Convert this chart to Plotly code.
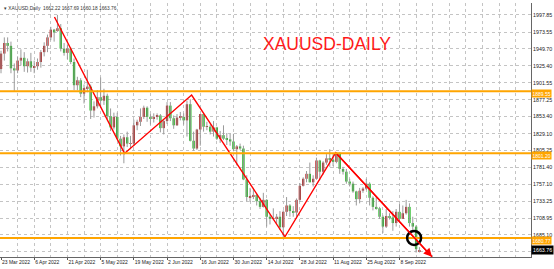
import plotly.graph_objects as go

# ---- daily XAUUSD bars (bar index 0 = 23 Mar 2022) ----
opens = [1921, 1943, 1958, 1954, 1922, 1919, 1933, 1937, 1925, 1932,
         1923, 1925, 1931, 1945, 1954, 1966, 1977, 1975, 1979, 1950,
         1944, 1950, 1931, 1898, 1905, 1886, 1894, 1896, 1862, 1868,
         1881, 1876, 1883, 1854, 1838, 1853, 1822, 1811, 1824, 1815,
         1815, 1841, 1846, 1853, 1866, 1853, 1851, 1853, 1855, 1837,
         1847, 1869, 1851, 1841, 1852, 1853, 1848, 1871, 1819, 1808,
         1835, 1857, 1839, 1839, 1832, 1838, 1822, 1827, 1822, 1821,
         1818, 1807, 1811, 1808, 1764, 1739, 1740, 1742, 1733, 1725,
         1735, 1711, 1708, 1709, 1711, 1696, 1718, 1727, 1719, 1717,
         1735, 1755, 1765, 1772, 1760, 1765, 1791, 1775, 1788, 1794,
         1792, 1789, 1802, 1779, 1775, 1761, 1758, 1747, 1736, 1748,
         1751, 1758, 1738, 1725, 1723, 1711, 1697, 1712, 1710, 1702,
         1718, 1708, 1716, 1725, 1702, 1697, 1662.22]
highs = [1947, 1966, 1966, 1960, 1929, 1939, 1949, 1945, 1936, 1944,
         1933, 1936, 1948, 1959, 1970, 1981, 1978, 1998, 1985, 1958,
         1956, 1952, 1936, 1910, 1908, 1899, 1920, 1899, 1875, 1891,
         1909, 1893, 1886, 1865, 1859, 1859, 1826, 1828, 1832, 1826,
         1849, 1849, 1865, 1869, 1868, 1857, 1858, 1858, 1857, 1849,
         1874, 1874, 1855, 1857, 1860, 1858, 1876, 1878, 1832, 1836,
         1857, 1857, 1846, 1842, 1847, 1839, 1833, 1841, 1830, 1829,
         1829, 1813, 1815, 1812, 1770, 1752, 1752, 1744, 1738, 1745,
         1736, 1714, 1723, 1715, 1719, 1720, 1739, 1729, 1726, 1737,
         1759, 1767, 1776, 1788, 1770, 1795, 1792, 1790, 1800, 1807,
         1800, 1802, 1802, 1782, 1779, 1765, 1761, 1748, 1752, 1753,
         1765, 1760, 1740, 1739, 1725, 1713, 1722, 1716, 1719, 1722,
         1729, 1727, 1735, 1730, 1711, 1699, 1667.69]
lows = [1915, 1933, 1946, 1915, 1890, 1915, 1926, 1917, 1916, 1917,
        1915, 1920, 1923, 1939, 1945, 1962, 1960, 1974, 1946, 1940,
        1935, 1928, 1891, 1891, 1881, 1872, 1888, 1850, 1852, 1865,
        1866, 1870, 1850, 1833, 1835, 1821, 1798, 1787, 1810, 1807,
        1812, 1834, 1840, 1850, 1846, 1842, 1845, 1849, 1831, 1828,
        1843, 1847, 1836, 1840, 1848, 1842, 1825, 1818, 1805, 1806,
        1812, 1832, 1834, 1828, 1825, 1820, 1816, 1820, 1813, 1812,
        1804, 1784, 1806, 1763, 1733, 1732, 1736, 1727, 1722, 1724,
        1697, 1700, 1706, 1701, 1692, 1681, 1712, 1711, 1711, 1711,
        1732, 1754, 1760, 1760, 1754, 1764, 1763, 1771, 1785, 1782,
        1783, 1787, 1772, 1771, 1758, 1754, 1745, 1727, 1730, 1745,
        1749, 1727, 1720, 1721, 1708, 1688, 1695, 1707, 1691, 1697,
        1704, 1708, 1714, 1697, 1692, 1660, 1660.18]
closes = [1943, 1958, 1954, 1922, 1919, 1933, 1937, 1925, 1932, 1923,
          1925, 1931, 1945, 1954, 1966, 1977, 1973, 1979, 1950, 1944,
          1950, 1931, 1898, 1905, 1886, 1894, 1896, 1862, 1868, 1881,
          1876, 1883, 1854, 1838, 1853, 1822, 1811, 1824, 1815, 1815,
          1841, 1846, 1853, 1866, 1853, 1851, 1853, 1855, 1837, 1847,
          1869, 1851, 1841, 1852, 1853, 1848, 1871, 1819, 1808, 1835,
          1857, 1839, 1839, 1832, 1838, 1822, 1827, 1822, 1821, 1818,
          1807, 1811, 1808, 1764, 1739, 1740, 1742, 1733, 1725, 1735,
          1711, 1708, 1709, 1711, 1696, 1718, 1727, 1719, 1717, 1735,
          1755, 1765, 1772, 1760, 1765, 1791, 1775, 1788, 1794, 1792,
          1789, 1802, 1779, 1775, 1761, 1758, 1747, 1736, 1748, 1751,
          1758, 1738, 1725, 1723, 1711, 1697, 1712, 1710, 1702, 1718,
          1708, 1716, 1725, 1702, 1697, 1665, 1663.76]

# date labels every 10 bars
date_labels = ["23 Mar 2022", "6 Apr 2022", "21 Apr 2022", "5 May 2022",
               "19 May 2022", "2 Jun 2022", "16 Jun 2022", "30 Jun 2022",
               "14 Jul 2022", "28 Jul 2022", "11 Aug 2022", "25 Aug 2022",
               "8 Sep 2022"]
label_step = 10

# price scale grid values (the lowest one sits under the current-price box)
price_ticks = [1997.85, 1973.55, 1949.70, 1925.40, 1901.55, 1877.25, 1853.40,
               1829.10, 1805.25, 1781.40, 1757.10, 1733.25, 1708.95, 1685.10,
               1661.25]
price_tick_text = [f"{v:.2f}" for v in price_ticks[:-1]] + [""]

# horizontal support / resistance levels
levels = [1889.55, 1801.20, 1680.77]

# zigzag drawing: bar position and price of each turning point, last = arrow tip
zz_bar = [16.1, 37.2, 57.4, 85.5, 100.8, 129.8]
zz_price = [1995.0, 1801.0, 1884.0, 1682.5, 1802.0, 1654.0]

# marked breakout point
mark_bar, mark_price = 124.4, 1680.8

header = "▾ XAUUSD,Daily  1662.22 1667.69 1660.18 1663.76"
title_text = "XAUUSD-DAILY"

BULL = "#B31E1E"
BEAR = "#19B419"
WICK = "#9A9A9A"
ORANGE = "#FFA500"
GRID = "#C4C4C4"
FONT = "Liberation Sans"

n = len(closes)
xs = list(range(n))

fig = go.Figure()

# wicks
wx, wy = [], []
for i in xs:
    wx += [i, i, None]
    wy += [lows[i], highs[i], None]
fig.add_trace(go.Scatter(x=wx, y=wy, mode="lines",
                         line=dict(color=WICK, width=1),
                         hoverinfo="skip", showlegend=False))

# bodies
base = [min(o, c) for o, c in zip(opens, closes)]
height = [max(abs(c - o), 0.8) for o, c in zip(opens, closes)]
colors = [BULL if c >= o else BEAR for o, c in zip(opens, closes)]
fig.add_trace(go.Bar(x=xs, y=height, base=base, width=0.7,
                     marker=dict(color=colors, line=dict(width=0)),
                     showlegend=False, hoverinfo="skip"))

# horizontal levels
for lv in levels:
    fig.add_shape(type="line", xref="paper", x0=0, x1=1, yref="y", y0=lv, y1=lv,
                  line=dict(color=ORANGE, width=2), layer="above")
    fig.add_annotation(xref="paper", x=1, xanchor="left", xshift=0,
                       yref="y", y=lv, yanchor="top", yshift=2,
                       text=f"{lv:.2f}", showarrow=False,
                       bgcolor=ORANGE, borderpad=0.5,
                       font=dict(family=FONT, size=5.0, color="white"))

# current price box
fig.add_annotation(xref="paper", x=1, xanchor="left", yref="y", y=closes[-1],
                   text=f"{closes[-1]:.2f}", showarrow=False, bgcolor="black",
                   borderpad=1, font=dict(family=FONT, size=5.3, color="white"))

# zigzag
fig.add_trace(go.Scatter(x=zz_bar, y=zz_price, mode="lines",
                         line=dict(color="#FF0000", width=1.4),
                         hoverinfo="skip", showlegend=False, cliponaxis=False))
fig.add_annotation(x=zz_bar[-1], y=zz_price[-1], ax=zz_bar[-2], ay=zz_price[-2],
                   xref="x", yref="y", axref="x", ayref="y", text="",
                   showarrow=True, arrowhead=2, arrowsize=1.2, arrowwidth=1.4,
                   arrowcolor="#FF0000")

# circle around the breakout
rx, ry = 2.1, 10.0
fig.add_shape(type="circle", xref="x", yref="y",
              x0=mark_bar - rx, x1=mark_bar + rx,
              y0=mark_price - ry, y1=mark_price + ry,
              line=dict(color="black", width=2.5), layer="above")

# header line and chart title
fig.add_annotation(xref="paper", yref="paper", x=0.004, y=0.995,
                   xanchor="left", yanchor="top", text=header, showarrow=False,
                   font=dict(family=FONT, size=4.8, color="#333333"))
fig.add_annotation(xref="paper", yref="paper", x=0.615, y=0.84,
                   xanchor="center", yanchor="middle", text=title_text,
                   showarrow=False,
                   font=dict(family=FONT, size=17.5, color="#FF1A1A"))

fig.update_layout(
    width=554, height=269,
    margin=dict(l=0, r=23, t=3, b=12),
    paper_bgcolor="white", plot_bgcolor="white",
    barmode="overlay", showlegend=False,
    xaxis=dict(
        range=[-0.3, 159.6],
        automargin=False,
        tickmode="array",
        tickvals=[i * label_step for i in range(len(date_labels))],
        ticktext=date_labels,
        tickangle=0,
        ticklabelposition="outside right",
        ticks="outside", ticklen=2, tickcolor="#555555",
        tickfont=dict(family=FONT, size=5, color="#222222"),
        showgrid=False, zeroline=False,
        showline=True, linecolor="#666666", linewidth=1,
        minor=dict(tickmode="linear", tick0=0, dtick=5, showgrid=True,
                   gridcolor=GRID, griddash="dot", gridwidth=1, ticks=""),
    ),
    yaxis=dict(
        side="right",
        automargin=False,
        range=[1653.75, 2014.9],
        tickmode="array",
        tickvals=price_ticks,
        ticktext=price_tick_text,
        ticks="", tickfont=dict(family=FONT, size=5.3, color="#222222"),
        showgrid=True, gridcolor=GRID, griddash="dot", gridwidth=1,
        zeroline=False,
        showline=True, linecolor="#666666", linewidth=1,
    ),
)

fig.write_html("out.html")
